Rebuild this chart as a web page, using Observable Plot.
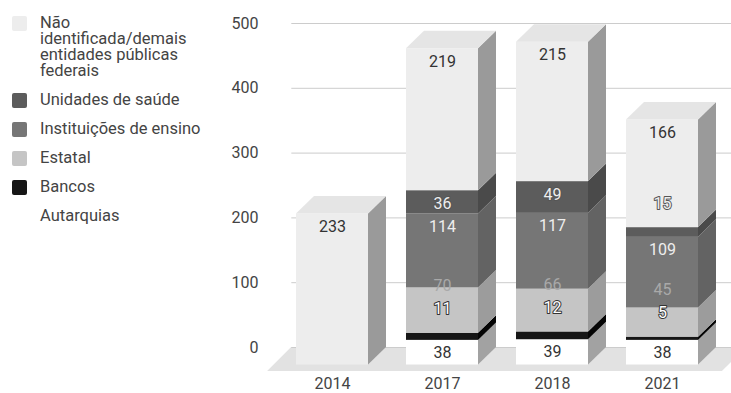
<!DOCTYPE html>
<html>
<head>
<meta charset="utf-8">
<script src="https://cdn.jsdelivr.net/npm/d3@7"></script>
<script src="https://cdn.jsdelivr.net/npm/@observablehq/plot@0.6"></script>
<style>
  html, body { margin: 0; padding: 0; background: #fff; }
  #wrap { position: relative; width: 731px; height: 393px; overflow: hidden; }
  #wrap svg { position: absolute; left: 0; top: 0; }
  #legend { position: absolute; left: 12px; top: 15px; display: flex; flex-direction: column; gap: 13px;
            font-family: Roboto, "Liberation Sans", sans-serif; font-size: 16.5px; line-height: 16px; color: #444; }
  .item { display: flex; align-items: flex-start; }
  .sw { width: 15px; height: 15px; border-radius: 2px; margin-right: 13px; flex: none; margin-top: 1px; }
</style>
</head>
<body>
<div id="wrap"></div>
<script>
// ---- data ----
const years = ["2014", "2017", "2018", "2021"];
const seriesNames = ["Autarquias", "Bancos", "Estatal", "Instituições de ensino", "Unidades de saúde", "Não identificada/demais entidades públicas federais"];
const autarquias      = [0, 38, 39, 38];
const bancos          = [0, 11, 12, 5];
const estatal         = [0, 70, 66, 45];
const instituicoes    = [0, 114, 117, 109];
const unidades        = [0, 36, 49, 15];
const naoIdentificada = [233, 219, 215, 166];
const yTicks = [0, 100, 200, 300, 400, 500];

// ---- styles ----
const frontColors = ["#ffffff", "#161616", "#c5c5c5", "#767676", "#5c5c5c", "#ededed"];
const sideColors  = ["#a2a2a2", "#050505", "#9c9c9c", "#636363", "#4a4a4a", "#9a9a9a"];
const topColors   = ["#f4f4f4", "#333333", "#d2d2d2", "#858585", "#6a6a6a", "#e5e5e5"];

// ---- layout (pixels) ----
const X_RANGE = [332, 662];   // centers of first and last bar
const Y_RANGE = [347, 23];    // 0 and 500 on the back wall
const BAR_W_PX = 72, DEPTH_X_PX = 18, DEPTH_Y_PX = 17.5;
const pxX = (X_RANGE[1] - X_RANGE[0]) / (years.length - 1);
const pxY = (Y_RANGE[0] - Y_RANGE[1]) / (yTicks[yTicks.length - 1] - yTicks[0]);
const W = BAR_W_PX / pxX, DX = DEPTH_X_PX / pxX, D = DEPTH_Y_PX / pxY;

const seriesData = [autarquias, bancos, estatal, instituicoes, unidades, naoIdentificada];
const segs = [];
years.forEach((yr, i) => {
  let acc = 0;
  seriesData.forEach((vals, s) => {
    const v = vals[i];
    if (!v) return;
    segs.push({i, s, v, b: acc, t: acc + v, key: i + "-" + s});
    acc += v;
  });
});
const topSegs = years.map((_, i) => segs.filter(d => d.i === i).pop());

// side faces (parallelograms)
const sides = segs.flatMap(d => [
  {x: d.i + W / 2, y1: d.b - D, y2: d.t - D, z: d.key, fill: sideColors[d.s]},
  {x: d.i + W / 2 + DX, y1: d.b, y2: d.t, z: d.key, fill: sideColors[d.s]}
]);
// top faces
const tops = topSegs.flatMap(d => {
  const xl = d.i - W / 2, xr = d.i + W / 2, T = d.t, f = topColors[d.s];
  return [
    {x: xl, y1: T - D, y2: T - D, z: d.key, fill: f},
    {x: xl + DX, y1: T - D, y2: T, z: d.key, fill: f},
    {x: xr, y1: T - D, y2: T, z: d.key, fill: f},
    {x: xr + DX, y1: T, y2: T, z: d.key, fill: f}
  ];
});
// floor
const FL_DX = 24 / pxX, FL_DY = 24 / pxY;
const flL = -0.59, flR = years.length - 1 + 0.545;
const floor = [
  {x: flL, y1: -FL_DY, y2: -FL_DY},
  {x: flL + FL_DX, y1: -FL_DY, y2: 0},
  {x: flR, y1: -FL_DY, y2: 0},
  {x: flR + FL_DX, y1: 0, y2: 0}
];

// labels
const labels = segs.map(d => {
  const hpx = d.v * pxY;
  let anchor, off; // off: pixels downward
  if (d.s === 0) { anchor = (d.b + d.t) / 2; off = 0; }
  else if (d.s === 2) { anchor = d.b; off = -47; }
  else if (hpx < 20) { anchor = d.t; off = -24; }
  else { anchor = d.t; off = 13; }
  return {x: d.i, y: anchor - D - off / pxY, text: String(d.v), s: d.s};
});
const labelFill = ["#333333", "#ffffff", "#a9a9a9", "#eeeeee", "#eeeeee", "#333333"];
const labelStroke = [null, "#333333", null, null, "#555555", null];

const plot = Plot.plot({
  width: 731,
  height: 393,
  marginLeft: 262,
  marginRight: 0,
  marginTop: 10,
  marginBottom: 20,
  style: {fontFamily: "Roboto, sans-serif", background: "transparent", color: "#444"},
  x: {type: "linear", domain: [0, years.length - 1], range: X_RANGE},
  y: {type: "linear", domain: [yTicks[0], yTicks[yTicks.length - 1]], range: Y_RANGE},
  color: {type: "identity"},
  marks: [
    Plot.areaY(floor, {x: "x", y1: "y1", y2: "y2", fill: "#e2e2e2"}),
    Plot.ruleY(yTicks, {x1: -0.37, x2: years.length + 0.7, stroke: "#cccccc", strokeWidth: 1}),
    Plot.areaY(sides, {x: "x", y1: "y1", y2: "y2", z: "z", fill: "fill"}),
    Plot.rect(segs, {x1: d => d.i - W / 2, x2: d => d.i + W / 2, y1: d => d.b - D, y2: d => d.t - D, fill: d => frontColors[d.s]}),
    Plot.areaY(tops, {x: "x", y1: "y1", y2: "y2", z: "z", fill: "fill"}),
    Plot.text(labels.filter(d => !labelStroke[d.s]), {x: "x", y: "y", text: "text", fill: d => labelFill[d.s], fontSize: 16, fontFamily: "Roboto"}),
    Plot.text(labels.filter(d => labelStroke[d.s]), {x: "x", y: "y", text: "text", fill: d => labelFill[d.s], stroke: d => labelStroke[d.s], strokeWidth: 2, paintOrder: "stroke", fontSize: 16, fontFamily: "Roboto"}),
    Plot.axisY(yTicks, {tickSize: 0, tickPadding: 4, fontSize: 16, label: null, color: "#444"}),
    Plot.axisX(d3.range(years.length), {tickSize: 0, tickPadding: 4, fontSize: 16, label: null, tickFormat: i => years[i], color: "#444"})
  ]
});

const wrap = document.getElementById("wrap");
wrap.appendChild(plot);

// legend (top to bottom = reverse stacking order)
const legend = document.createElement("div");
legend.id = "legend";
const legendLines = {5: ["Não", "identificada/demais", "entidades públicas", "federais"]};
for (let s = seriesNames.length - 1; s >= 0; s--) {
  const item = document.createElement("div");
  item.className = "item";
  const sw = document.createElement("div");
  sw.className = "sw";
  sw.style.background = frontColors[s];
  const tx = document.createElement("div");
  const lines = legendLines[s] || [seriesNames[s]];
  lines.forEach((l, k) => {
    if (k) tx.appendChild(document.createElement("br"));
    tx.appendChild(document.createTextNode(l));
  });
  item.appendChild(sw);
  item.appendChild(tx);
  legend.appendChild(item);
}
wrap.appendChild(legend);
</script>
</body>
</html>
